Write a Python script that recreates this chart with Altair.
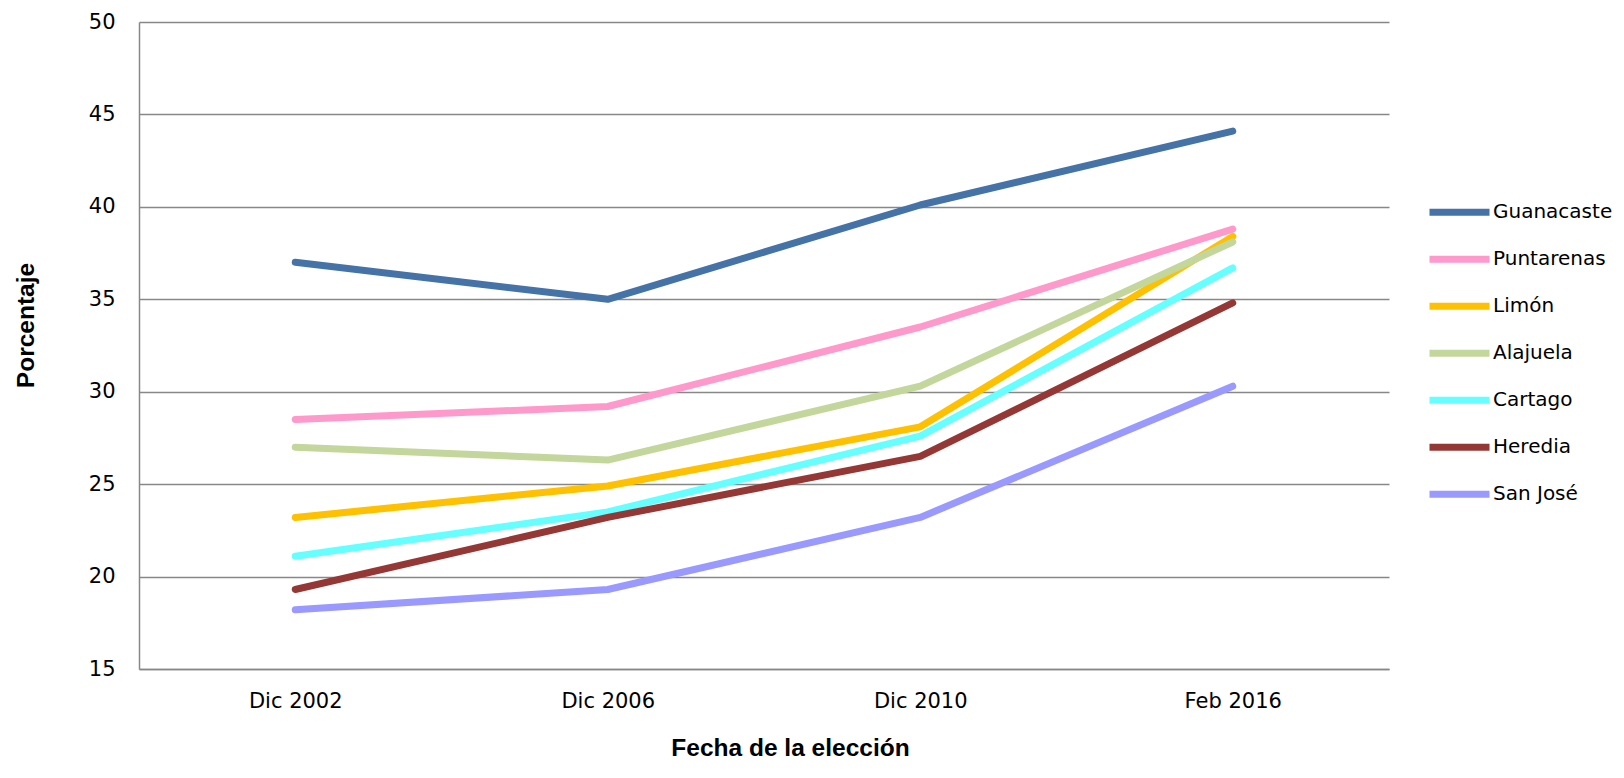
import altair as alt
import pandas as pd

fechas = ["Dic 2002", "Dic 2006", "Dic 2010", "Feb 2016"]
provincias = ["Guanacaste", "Puntarenas", "Limón", "Alajuela", "Cartago", "Heredia", "San José"]
colores = ["#4572A7", "#FF99CC", "#FFC000", "#C3D69B", "#66FFFF", "#953735", "#9999FF"]

guanacaste = [37.0, 35.0, 40.1, 44.1]
puntarenas = [28.5, 29.2, 33.5, 38.8]
limon = [23.2, 24.9, 28.1, 38.4]
alajuela = [27.0, 26.3, 30.3, 38.1]
cartago = [21.1, 23.5, 27.6, 36.7]
heredia = [19.3, 23.2, 26.5, 34.8]
san_jose = [18.2, 19.3, 23.2, 30.3]

series = [guanacaste, puntarenas, limon, alajuela, cartago, heredia, san_jose]

rows = []
for i, (nombre, valores) in enumerate(zip(provincias, series)):
    for j, (f, v) in enumerate(zip(fechas, valores)):
        rows.append({"Provincia": nombre, "Fecha": f, "Porcentaje": v, "orden": i})
df = pd.DataFrame(rows)

chart = alt.Chart(df).mark_line(strokeWidth=7, strokeCap="round", strokeJoin="round").encode(
    x=alt.X(
        "Fecha:N",
        sort=fechas,
        scale=alt.Scale(type="point", padding=0.5),
        axis=alt.Axis(
            title="Fecha de la elección",
            labelAngle=0,
            labelFont="DejaVu Sans",
            labelFontSize=21,
            labelColor="#000000",
            labelPadding=21,
            ticks=False,
            tickSize=0,
            domain=True,
            domainColor="#888888",
            domainWidth=1.5,
            grid=False,
            titleFont="Liberation Sans",
            titleFontSize=24.5,
            titleFontWeight="bold",
            titleColor="#000000",
            titleX=651,
            titleY=86,
            titleAlign="center",
            titleBaseline="alphabetic",
        ),
    ),
    y=alt.Y(
        "Porcentaje:Q",
        scale=alt.Scale(domain=[15, 50], nice=False, zero=False),
        axis=alt.Axis(
            title="Porcentaje",
            values=[15, 20, 25, 30, 35, 40, 45, 50],
            labelFont="DejaVu Sans",
            labelFontSize=21,
            labelColor="#000000",
            labelPadding=24,
            ticks=False,
            tickSize=0,
            domain=True,
            domainColor="#888888",
            domainWidth=1.5,
            grid=True,
            gridColor="#888888",
            gridWidth=1.5,
            titleFont="Liberation Sans",
            titleFontSize=24.5,
            titleFontWeight="bold",
            titleColor="#000000",
            titleAngle=270,
            titleX=-106,
            titleY=303,
            titleAlign="center",
            titleBaseline="alphabetic",
        ),
    ),
    color=alt.Color(
        "Provincia:N",
        sort=provincias,
        scale=alt.Scale(domain=provincias, range=colores),
        legend=alt.Legend(
            title=None,
            orient="none",
            legendX=1287,
            legendY=167,
            padding=0,
            symbolType="stroke",
            symbolSize=3600,
            symbolStrokeWidth=7,
            labelFont="DejaVu Sans",
            labelFontSize=20,
            labelColor="#000000",
            labelOffset=0,
            clipHeight=46.5,
            rowPadding=0,
        ),
    ),
    order=alt.Order("orden:Q"),
).properties(
    width=1250,
    height=647,
    padding={"left": 131, "top": 14, "right": 227, "bottom": 95},
    autosize=alt.AutoSizeParams(type="none"),
).configure_view(stroke=None)

chart.save("out.html", embed_options={"renderer": "svg", "actions": False})
